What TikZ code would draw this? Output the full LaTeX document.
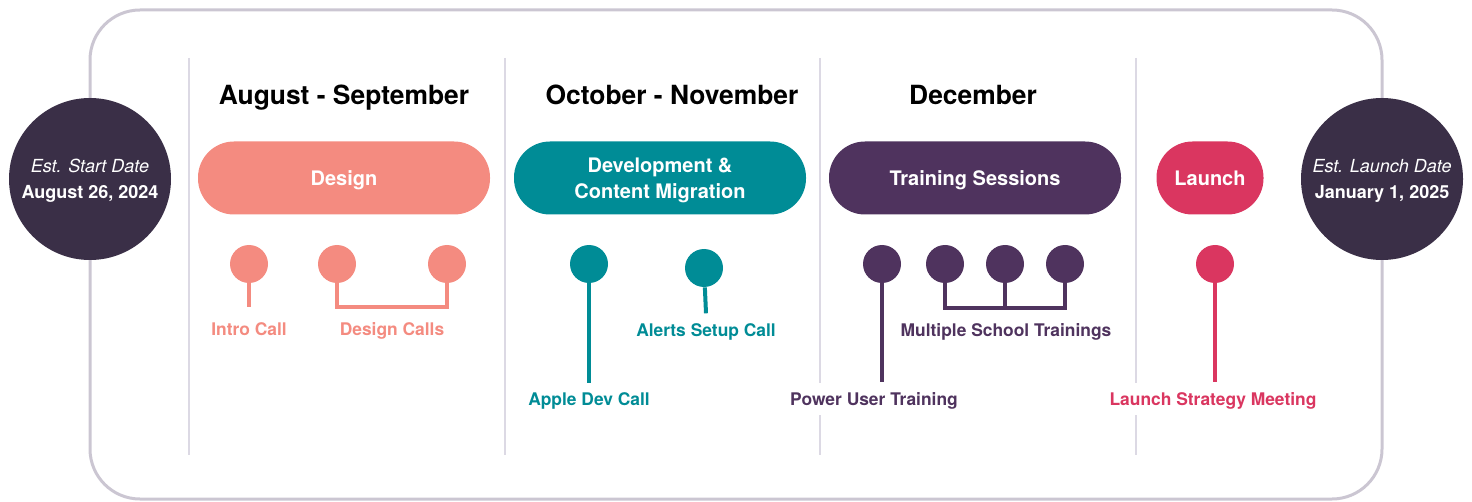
\documentclass[tikz,border=0pt]{standalone}
\usepackage{fontspec}
\setmainfont{TeX Gyre Heros}
\usepackage{tikz}
\definecolor{salmon}{HTML}{F48B80}
\definecolor{lagoon}{HTML}{008C96}
\definecolor{plum}{HTML}{4F335E}
\definecolor{rose}{HTML}{DA3660}
\definecolor{night}{HTML}{3A2F47}
\definecolor{framegray}{HTML}{CBC6D2}
\definecolor{divgray}{HTML}{DCD9E4}
\tikzstyle{datecircle} = [circle, fill=night, text=white, minimum size=81pt,
    inner sep=0pt, align=center, text depth=-1.2pt, font=\fontsize{9}{13}\selectfont]
\tikzstyle{month} = [text=black, text height=9.5pt, text depth=0pt,
    font=\bfseries\fontsize{13.2}{15}\selectfont]
\tikzstyle{phase} = [rectangle, rounded corners=18pt, minimum height=36.5pt,
    minimum width=146pt, text=white, align=center, inner sep=0pt,
    font=\bfseries\fontsize{10}{13}\selectfont]
\tikzstyle{oneline} = [text height=7.2pt, text depth=0pt]
\tikzstyle{dot} = [circle, minimum size=19pt, inner sep=0pt]
\tikzstyle{stem} = [line width=2pt]
\tikzstyle{event} = [fill=white, inner xsep=2pt, inner ysep=5pt, text height=6.3pt,
    text depth=0pt, font=\bfseries\fontsize{8.7}{10}\selectfont]

\begin{document}
\begin{tikzpicture}[x=0.5pt, y=-0.5pt]
                \useasboundingbox (0,0) rectangle (1472,502);
                % frame and month dividers
                \draw[framegray, line width=1.5pt, rounded corners=25pt] (90,10) rectangle (1382,499);
                \foreach \xd in {189, 505, 820, 1136}
                    \draw[divgray, line width=0.75pt] (\xd,58) -- (\xd,455);
                % start and launch dates
                \node[datecircle] (start) at (90,179) {\textit{Est. Start Date}\\\textbf{August 26, 2024}};
                \node[datecircle] (golive) at (1382,179) {\textit{Est. Launch Date}\\\textbf{January 1, 2025}};
                % months
                \node[month] (augsep) at (344,95) {August - September};
                \node[month] (octnov) at (672,95) {October - November};
                \node[month] (dec) at (973,95) {December};
                % phases
                \node[phase, oneline, fill=salmon] (design) at (344,178) {Design};
                \node[phase, fill=lagoon, text depth=-1.2pt] (develop) at (660,178) {Development \&\\Content Migration};
                \node[phase, oneline, fill=plum] (training) at (975,178) {Training Sessions};
                \node[phase, oneline, fill=rose, minimum width=53.5pt] (launch) at (1210,178) {Launch};
                % design calls
                \node[dot, fill=salmon] (intro) at (249,264) {};
                \node[dot, fill=salmon] (dcallA) at (337,264) {};
                \node[dot, fill=salmon] (dcallB) at (447,264) {};
                \coordinate (dbar) at (0,307);
                \node[event, text=salmon] (introlbl) at (249,329.5) {Intro Call};
                \node[event, text=salmon] (dcalllbl) at (392,329.5) {Design Calls};
                \draw[stem, salmon] (intro) -- (intro |- dbar);
                \draw[stem, salmon] (dcallA) |- (dcallB |- dbar) -- (dcallB);
                % development calls
                \node[dot, fill=lagoon] (apple) at (589,264) {};
                \node[dot, fill=lagoon] (alerts) at (704,268) {};
                \node[event, text=lagoon] (applelbl) at (589,399.5) {Apple Dev Call};
                \node[event, text=lagoon] (alertslbl) at (706,330) {Alerts Setup Call};
                \draw[stem, lagoon] (apple) -- (applelbl.north);
                \draw[stem, lagoon] (alerts) -- (alertslbl.north);
                % trainings
                \node[dot, fill=plum] (power) at (882,264) {};
                \node[dot, fill=plum] (schoolA) at (945,264) {};
                \node[dot, fill=plum] (schoolB) at (1005,264) {};
                \node[dot, fill=plum] (schoolC) at (1065,264) {};
                \coordinate (tbar) at (0,308);
                \node[event, text=plum] (powerlbl) at (874,399) {Power User Training};
                \node[event, text=plum] (schoollbl) at (1006,330.5) {Multiple School Trainings};
                \draw[stem, plum] (power) -- (power |- powerlbl.north);
                \draw[stem, plum] (schoolA) |- (schoolC |- tbar) -- (schoolC);
                \draw[stem, plum] (schoolB) -- (schoolB |- tbar);
                % launch meeting
                \node[dot, fill=rose] (meeting) at (1215,264) {};
                \node[event, text=rose] (meetinglbl) at (1213,399) {Launch Strategy Meeting};
                \draw[stem, rose] (meeting) -- (meeting |- meetinglbl.north);
            \end{tikzpicture}
\end{document}
